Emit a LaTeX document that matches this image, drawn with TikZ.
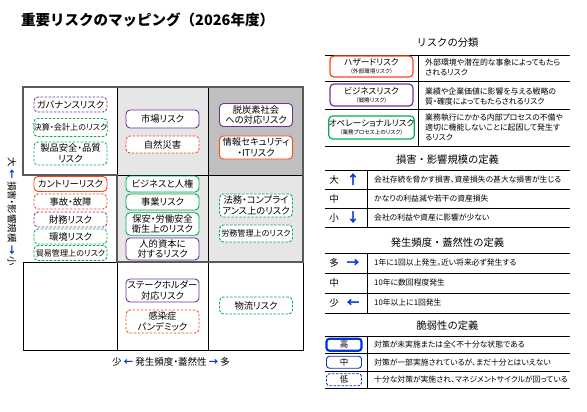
\documentclass[tikz,border=0pt]{standalone}
\usepackage{fontspec}
\setmainfont{Noto Sans CJK JP}[RawFeature={+palt}]
\newfontfamily\titlefont{Noto Sans CJK JP}
\usepackage{tikz}
\usetikzlibrary{positioning}

\definecolor{hazardred}{RGB}{255,68,20}
\definecolor{strategypurple}{RGB}{112,48,160}
\definecolor{operationgreen}{RGB}{0,176,80}
\definecolor{framegray}{RGB}{89,89,89}
\definecolor{cellgray}{RGB}{230,230,230}
\definecolor{cellgrayDark}{RGB}{191,191,191}
\definecolor{axisblue}{RGB}{0,51,220}

\begin{document}
\begin{tikzpicture}[x=1pt, y=-1pt, inner sep=0pt,
    risk/.style={draw, fill=white, rounded corners=4pt, line width=0.9pt, align=center,
      minimum width=73pt, minimum height=16pt, font=\fontsize{9.3}{10.7}\selectfont},
    hazard/.style={risk, draw=hazardred},
    strategy/.style={risk, draw=strategypurple},
    operation/.style={risk, draw=operationgreen},
    lowvul/.style={dash pattern=on 2.5pt off 1.5pt},
    tall/.style={minimum height=23pt},
    short/.style={minimum height=15pt},
    small/.style={font=\fontsize{8.1}{10}\selectfont},
    catbox/.style={draw, fill=white, rounded corners=4pt, line width=1.2pt, align=center,
      minimum width=83pt, font=\fontsize{8.6}{10}\selectfont},
    heading/.style={font=\titlefont\fontsize{10.3}{12}\selectfont},
    desc/.style={anchor=west, align=left, font=\fontsize{7.9}{10.3}\selectfont},
    defn/.style={anchor=west, font=\fontsize{7.8}{10}\selectfont},
    grade/.style={font=\fontsize{9.5}{11}\selectfont},
    arrowtxt/.style={text=axisblue, font=\bfseries\fontsize{13}{13}\selectfont},
    vulbox/.style={draw=axisblue, rounded corners=3pt, line width=0.9pt,
      minimum width=35pt, minimum height=12pt, font=\fontsize{8.5}{10}\selectfont},
    rule/.style={line width=0.9pt}]
  \useasboundingbox (0,0) rectangle (587,412);

  % Title
  \node (Title) [anchor=west, font=\titlefont\bfseries\fontsize{14.5}{16}\selectfont] at (21,20)
    {重要リスクのマッピング（2026年度）};

  % Cells
  \fill [cellgray] (117,87) rectangle (208,175);
  \fill [cellgrayDark] (208,87) rectangle (303,175);
  \fill [cellgray] (117,175) rectangle (303,262);
  \draw [line width=0.8pt] (117,87) -- (117,175) (208,87) -- (208,350)
    (117,175) -- (303,175) (23,262) -- (117,262)
    (117,262) -- (117,350) (23,262) -- (23,350) -- (303,350) -- (303,262);
  \draw [framegray, line width=2.2pt, line join=miter]
    (23,175) -- (23,87) -- (303,87) -- (303,262) -- (117,262) -- (117,175) -- cycle;

  % Risks: high impact
  \node (Governance) [strategy, lowvul, short] at (70.5,104.5) {ガバナンスリスク};
  \node (Accounting) [operation, lowvul, small, minimum height=18pt] at (70.5,127.5) {決算・会計上のリスク};
  \node (ProductSafety) [operation, lowvul, tall] at (70.5,153.5) {製品安全・品質\\リスク};
  \node (Market) [strategy, minimum height=18pt] at (162.5,119) {市場リスク};
  \node (Disaster) [hazard, lowvul, minimum height=17pt] at (162.5,144.5) {自然災害};
  \node (Decarbon) [strategy, tall] at (256,115) {脱炭素社会\\への対応リスク};
  \node (InfoSec) [hazard, tall] at (256,147.5) {情報セキュリティ\\・ITリスク};

  % Risks: middle impact
  \node (Country) [hazard, short] at (70.5,184) {カントリーリスク};
  \node (Accident) [hazard, lowvul, short] at (70.5,201.5) {事故・故障};
  \node (Finance) [strategy, lowvul, short] at (70.5,219.5) {財務リスク};
  \node (Environment) [operation, lowvul, short] at (70.5,236.5) {環境リスク};
  \node (Trade) [operation, lowvul, short, small] at (70.5,253) {貿易管理上のリスク};
  \node (HumanRights) [operation] at (162.5,184) {ビジネスと人権};
  \node (BusinessRisk) [operation] at (162.5,202) {事業リスク};
  \node (Safety) [operation, minimum height=22.5pt] at (162.5,224) {保安・労働安全\\衛生上のリスク};
  \node (HumanCapital) [strategy, minimum height=22pt] at (162.5,249) {人的資本に\\対するリスク};
  \node (Legal) [operation, lowvul, tall] at (256,205.5) {法務・コンプライ\\アンス上のリスク};
  \node (Labor) [operation, lowvul, small, minimum height=17pt] at (256,233.5) {労務管理上のリスク};

  % Risks: low impact
  \node (Stakeholder) [strategy, tall] at (162.5,290.5) {ステークホルダー\\対応リスク};
  \node (Pandemic) [hazard, lowvul, tall] at (162.5,321.5) {感染症\\パンデミック};
  \node (Logistics) [operation, lowvul, minimum height=17pt] at (256,305.5) {物流リスク};

  % Axes
  \node (FreqAxis) [font=\fontsize{9.5}{11}\selectfont] at (171,362)
    {少 {\color{axisblue}\bfseries ←} 発生頻度・蓋然性 {\color{axisblue}\bfseries →} 多};
  \node (ImpactAxis) [rotate=-90, font=\fontsize{9.5}{11}\selectfont] at (12,212)
    {大 {\color{axisblue}\bfseries ←} 損害・影響規模 {\color{axisblue}\bfseries →} 小};

  % Classification
  \node (ClassTitle) [heading] at (447.5,43) {リスクの分類};
  \draw [rule] (325,55) -- (570,55) (325,81) -- (570,81) (325,109) -- (570,109)
    (325,146) -- (570,146) (418,55) -- (418,146);
  \node (Hazard) [catbox, draw=hazardred, minimum height=21pt] at (371.5,66.5)
    {ハザードリスク\\[-1.5pt]{\fontsize{5.6}{7}\selectfont （外部環境リスク）}};
  \node (Strategic) [catbox, draw=strategypurple, minimum height=22pt] at (371.5,95)
    {ビジネスリスク\\[-1.5pt]{\fontsize{5.6}{7}\selectfont （戦略リスク）}};
  \node (Operational) [catbox, draw=operationgreen, minimum height=23pt] at (371.5,127.5)
    {オペレーショナルリスク\\[-1.5pt]{\fontsize{5.6}{7}\selectfont （業務プロセス上のリスク）}};
  \node (HazardText) [desc] at (425,67) {外部環境や潜在的な事象によってもたら\\されるリスク};
  \node (StrategicText) [desc] at (425,96.5) {業績や企業価値に影響を与える戦略の\\質・確度によってもたらされるリスク};
  \node (OperationalText) [desc] at (425,127.5)
    {業務執行にかかる内部プロセスの不備や\\適切に機能しないことに起因して発生す\\るリスク};

  % Impact
  \node (ImpactTitle) [heading] at (447.5,160) {損害・影響規模の定義};
  \draw [rule] (325,170) -- (570,170) (325,189) -- (570,189) (325,208) -- (570,208)
    (325,227) -- (570,227) (367,170) -- (367,227);
  \node (Big) [grade] at (334,179.5) {大};
  \node (BigArrow) [arrowtxt] at (353,179.5) {↑};
  \node (Medium) [grade] at (334,198.5) {中};
  \node (Small) [grade] at (334,217.5) {小};
  \node (SmallArrow) [arrowtxt] at (353,217.5) {↓};
  \node (BigText) [defn] at (374,179.5) {会社存続を脅かす損害、資産損失の甚大な損害が生じる};
  \node (MediumText) [defn] at (374,198.5) {かなりの利益減や若干の資産損失};
  \node (SmallText) [defn] at (374,217.5) {会社の利益や資産に影響が少ない};

  % Frequency
  \node (FreqTitle) [heading] at (447.5,243) {発生頻度・蓋然性の定義};
  \draw [rule] (325,253) -- (570,253) (325,273) -- (570,273) (325,293) -- (570,293)
    (325,313) -- (570,313) (367,253) -- (367,313);
  \node (Often) [grade] at (334,263) {多};
  \node (OftenArrow) [arrowtxt] at (353,263) {→};
  \node (Sometimes) [grade] at (334,283) {中};
  \node (Rarely) [grade] at (334,303) {少};
  \node (RarelyArrow) [arrowtxt] at (353,303) {←};
  \node (OftenText) [defn] at (374,263) {1年に1回以上発生。近い将来必ず発生する};
  \node (SometimesText) [defn] at (374,283) {10年に数回程度発生};
  \node (RarelyText) [defn] at (374,303) {10年以上に1回発生};

  % Vulnerability
  \node (VulTitle) [heading] at (447.5,326) {脆弱性の定義};
  \draw [rule] (325,336) -- (570,336) (325,353.5) -- (570,353.5) (325,371) -- (570,371)
    (325,388.5) -- (570,388.5) (367,336) -- (367,388.5);
  \node (High) [vulbox, line width=2.2pt] at (344,344.75) {高};
  \node (Mid) [vulbox] at (344,362.25) {中};
  \node (Low) [vulbox, lowvul] at (344,379.75) {低};
  \node (HighText) [defn] at (374,344.75) {対策が未実施または全く不十分な状態である};
  \node (MidText) [defn] at (374,362.25) {対策が一部実施されているが、まだ十分とはいえない};
  \node (LowText) [defn] at (374,379.75) {十分な対策が実施され、マネジメントサイクルが回っている};
\end{tikzpicture}
\end{document}
